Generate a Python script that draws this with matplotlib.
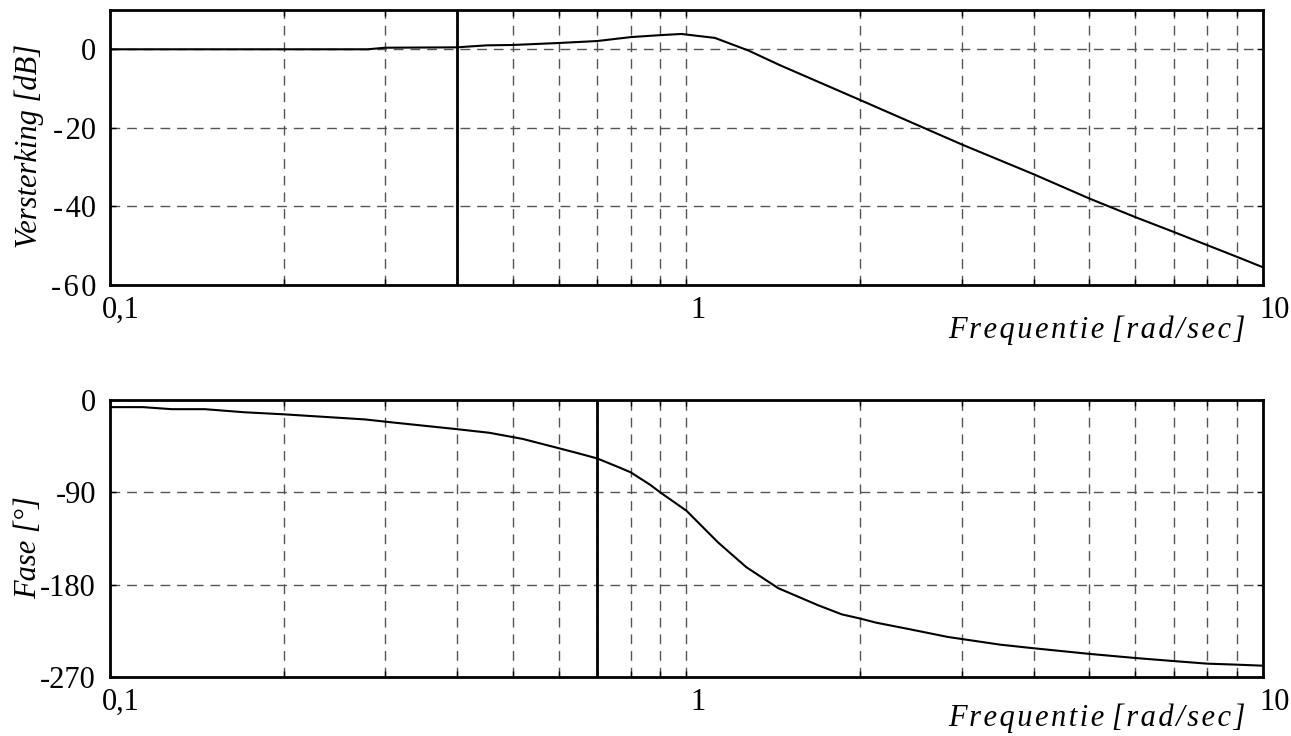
import matplotlib
matplotlib.use("Agg")
import matplotlib.pyplot as plt
from matplotlib.ticker import FixedLocator, NullFormatter
from matplotlib.transforms import ScaledTranslation

# gain curve [dB]
freq_mag = [0.1, 0.28, 0.3, 0.4, 0.45, 0.5, 0.6, 0.7, 0.8, 0.9, 0.98, 1.12, 1.28,
            1.45, 2, 3, 4, 5, 6, 7, 9, 10]
mag_db = [0, 0, 0.4, 0.5, 1.0, 1.1, 1.6, 2.1, 3.1, 3.6, 3.9, 2.9, -0.3,
          -4, -12.9, -24.2, -31.8, -38, -42.7, -46.5, -52.8, -55.5]

# phase curve [deg]
freq_phase = [0.1, 0.114, 0.128, 0.146, 0.171, 0.2, 0.277, 0.31, 0.4, 0.455, 0.52,
              0.6, 0.649, 0.7, 0.766, 0.8, 0.864, 0.9, 1.0, 1.135, 1.27, 1.443, 1.69,
              1.86, 2.0, 2.13, 2.44, 2.84, 3.5, 4, 5, 6, 7, 8, 9, 10]
phase_deg = [-7, -7, -9, -9, -12, -14, -19, -22, -28.5, -32, -38,
             -47, -52, -57, -66, -70.5, -82.5, -90, -108, -139, -163, -183.5, -200,
             -209, -213, -217, -223.5, -231, -238.5, -242, -247.5, -251.5, -254.5, -257, -258, -259]

marker_mag = 0.4
marker_phase = 0.7

hs = "\u200a"  # hair space, for the letter-spaced texts
x_ticks = [0.1, 1, 10]
x_ticklabels = ["0,1", "1", "10"]
mag_ticks = [0, -20, -40, -60]
mag_ticklabels = ["0", "-" + hs + "20", "-" + hs + "40", "-" + hs + "6" + hs + "0"]
phase_ticks = [0, -90, -180, -270]
phase_ticklabels = ["0", "-90", "-180", "-270"]
minor = [m * d for d in (0.1, 1) for m in range(2, 10)]

FAMILY = ["Liberation Serif", "DejaVu Serif"]
plt.rcParams["font.family"] = "serif"
plt.rcParams["font.serif"] = ["Liberation Serif"]

fig = plt.figure(figsize=(12.91, 7.36), dpi=100)
ax1 = fig.add_axes([0.0852, 0.6128, 0.8931, 0.3736])
ax2 = fig.add_axes([0.0852, 0.0802, 0.8931, 0.3764])

xlabel = hs.join("Frequentie") + " " + hs.join("[rad/sec]")
shift = ScaledTranslation(8 / 72, 0, fig.dpi_scale_trans)  # labels sit a bit right of their tick


def style(ax, yticks, ylabels, ylim, ylabel, ylabel_y, xlabel_dy):
    ax.set_xscale("log")
    ax.set_xlim(0.1, 10)
    ax.set_ylim(*ylim)
    ax.xaxis.set_major_locator(FixedLocator(x_ticks))
    ax.xaxis.set_minor_locator(FixedLocator(minor))
    ax.xaxis.set_minor_formatter(NullFormatter())
    ax.set_xticklabels(x_ticklabels, family=FAMILY)
    ax.set_yticks(yticks)
    ax.set_yticklabels(ylabels, family=FAMILY)
    dash = (0, (7, 5))
    ax.grid(True, which="both", axis="x", color="#555555", linestyle=dash, linewidth=1)
    ax.grid(True, which="major", axis="y", color="#555555", linestyle=dash, linewidth=1)
    ax.tick_params(which="both", direction="in", top=True, right=True, length=4,
                   width=1, labelsize=22, pad=8)
    ax.tick_params(axis="y", pad=10)
    for lab in ax.get_xticklabels():
        lab.set_transform(lab.get_transform() + shift)
    for s in ax.spines.values():
        s.set_linewidth(2)
    fig.text(29 / 1291, ylabel_y, ylabel, rotation=90, ha="center", va="center",
             fontsize=22, style="italic", family=FAMILY)
    ax.text(0.9846, xlabel_dy, xlabel, transform=ax.transAxes, ha="right", va="center",
            fontsize=22, style="italic", family=FAMILY)


ax1.plot(freq_mag, mag_db, color="black", linewidth=1.5)
ax1.axvline(marker_mag, color="black", linewidth=2)
style(ax1, mag_ticks, mag_ticklabels, (-60, 10), "Versterking [dB]", 0.8016, -0.165)

ax2.plot(freq_phase, phase_deg, color="black", linewidth=1.5)
ax2.axvline(marker_phase, color="black", linewidth=2)
style(ax2, phase_ticks, phase_ticklabels, (-270, 0), "Fase [°]", 0.2554, -0.15)

fig.savefig("out.png", dpi=100)
